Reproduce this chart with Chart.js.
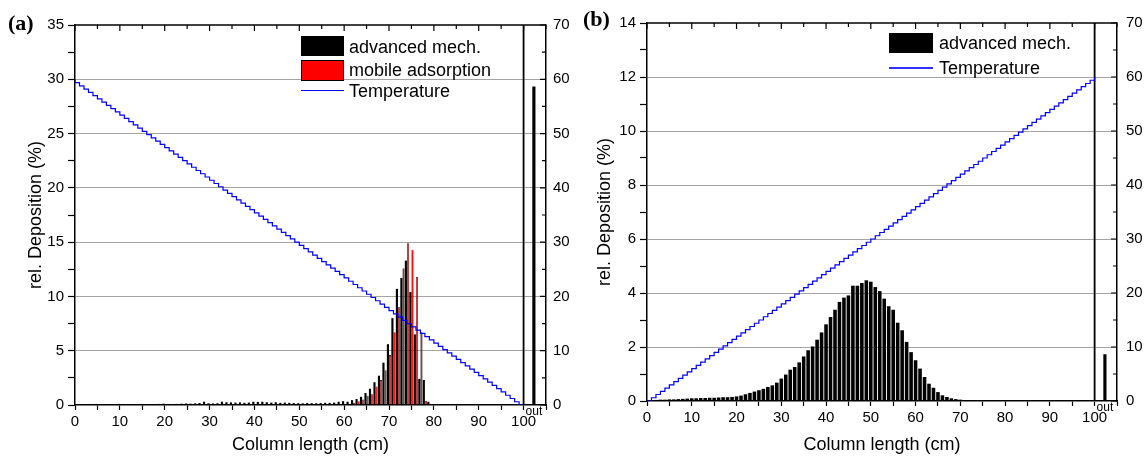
<!DOCTYPE html>
<html>
<head>
<meta charset="utf-8">
<script src="https://cdn.jsdelivr.net/npm/chart.js@4.4.1/dist/chart.umd.min.js"></script>
<style>
body { margin: 0; background: #fff; }
#wrap { position: relative; width: 1146px; height: 456px; overflow: hidden; font-family: 'Liberation Sans', Arial, sans-serif; }
canvas { position: absolute; top: 0; }
.tag { position: absolute; font: bold 22px 'Liberation Serif', 'Times New Roman', serif; }
.lg { position: absolute; font-size: 18px; line-height: 20px; white-space: nowrap; }
.sw { position: absolute; }
</style>
</head>
<body>
<div id="wrap">
  <canvas id="chartA" width="580" height="456" style="left:0"></canvas>
  <canvas id="chartB" width="566" height="456" style="left:580px"></canvas>
  <div class="tag" style="left:8px;top:10px">(a)</div>
  <div class="tag" style="left:583px;top:6px">(b)</div>

  <div class="sw" style="left:301px;top:36px;width:43px;height:20px;background:#000"></div>
  <div class="lg" style="left:349px;top:37px">advanced mech.</div>
  <div class="sw" style="left:301px;top:60px;width:41px;height:19px;background:#f00;border:1px solid #000"></div>
  <div class="lg" style="left:349px;top:60px">mobile adsorption</div>
  <div class="sw" style="left:301px;top:90px;width:43px;height:1px;background:#00f"></div>
  <div class="lg" style="left:349px;top:81px">Temperature</div>

  <div class="sw" style="left:889px;top:33px;width:44px;height:20px;background:#000"></div>
  <div class="lg" style="left:939px;top:33px">advanced mech.</div>
  <div class="sw" style="left:889px;top:67px;width:44px;height:1.5px;background:#3030ff"></div>
  <div class="lg" style="left:939px;top:58px">Temperature</div>
</div>
<script>
// column position of each deposition bin (cm)
const columnCm = [
  1, 2, 3, 4, 5, 6, 7, 8, 9, 10, 11, 12, 13, 14, 15, 16, 17, 18, 19, 20,
  21, 22, 23, 24, 25, 26, 27, 28, 29, 30, 31, 32, 33, 34, 35, 36, 37, 38, 39, 40,
  41, 42, 43, 44, 45, 46, 47, 48, 49, 50, 51, 52, 53, 54, 55, 56, 57, 58, 59, 60,
  61, 62, 63, 64, 65, 66, 67, 68, 69, 70, 71, 72, 73, 74, 75, 76, 77, 78, 79, 80,
  81, 82, 83, 84, 85, 86, 87, 88, 89, 90, 91, 92, 93, 94, 95, 96, 97, 98, 99, 100
];
const tempCm = [0, ...columnCm];

// (a) advanced mech. / mobile adsorption, rel. deposition %
const advA = [
  0.02, 0.03, 0.03, 0.05, 0.1, 0.05, 0.04, 0.05, 0.08, 0.1,
  0.06, 0.05, 0.06, 0.08, 0.1, 0.08, 0.07, 0.08, 0.1, 0.12,
  0.1, 0.09, 0.1, 0.12, 0.14, 0.12, 0.15, 0.18, 0.3, 0.15,
  0.14, 0.16, 0.3, 0.25, 0.24, 0.22, 0.24, 0.2, 0.22, 0.3,
  0.28, 0.3, 0.25, 0.22, 0.25, 0.2, 0.22, 0.2, 0.18, 0.16,
  0.15, 0.18, 0.17, 0.16, 0.18, 0.2, 0.2, 0.22, 0.3, 0.35,
  0.3, 0.45, 0.55, 0.75, 1.1, 1.5, 2.1, 2.7, 3.9, 5.6,
  8.0, 10.7, 11.7, 13.3, 10.4, 6.5, 2.4, 2.3, 0.3, 0,
  0, 0, 0, 0, 0, 0, 0, 0, 0, 0,
  0, 0, 0, 0, 0, 0, 0, 0, 0, 0
];
const mobA = [
  0, 0, 0, 0, 0, 0, 0, 0, 0, 0,
  0, 0, 0, 0, 0, 0, 0, 0, 0, 0,
  0, 0, 0, 0, 0, 0, 0, 0, 0, 0,
  0, 0, 0, 0, 0, 0, 0, 0, 0, 0,
  0, 0, 0, 0, 0, 0, 0, 0, 0, 0,
  0, 0, 0, 0, 0.02, 0.03, 0.03, 0.05, 0.05, 0.08,
  0.1, 0.2, 0.35, 0.5, 0.85, 1.0, 1.7, 2.3, 3.2, 4.6,
  6.7, 9.0, 12.6, 14.9, 14.3, 11.8, 6.7, 0.4, 0, 0,
  0, 0, 0, 0, 0, 0, 0, 0, 0, 0,
  0, 0, 0, 0, 0, 0, 0, 0, 0, 0
];
// (b) advanced mech.
const advB = [
  0.03, 0.04, 0.05, 0.05, 0.06, 0.06, 0.07, 0.08, 0.09, 0.1,
  0.1, 0.11, 0.11, 0.12, 0.12, 0.13, 0.14, 0.14, 0.15, 0.17,
  0.2, 0.25, 0.3, 0.35, 0.4, 0.45, 0.52, 0.58, 0.68, 0.83,
  0.98, 1.16, 1.26, 1.43, 1.65, 1.88, 2.02, 2.27, 2.54, 2.84,
  3.11, 3.38, 3.67, 3.83, 3.91, 4.27, 4.27, 4.37, 4.47, 4.42,
  4.22, 4.07, 3.79, 3.51, 3.38, 2.9, 2.62, 2.19, 1.81, 1.51,
  1.2, 0.89, 0.64, 0.49, 0.33, 0.21, 0.15, 0.1, 0.07, 0.05,
  0.03, 0.02, 0.01, 0, 0, 0, 0, 0, 0, 0,
  0, 0, 0, 0, 0, 0, 0, 0, 0, 0,
  0, 0, 0, 0, 0, 0, 0, 0, 0, 0
];

// share that leaves the column ("out")
const outCm = 102.3;
const outA = 29.3;
const outB = 1.72;
const columnEndCm = 100;

// temperature profile (right axis), one step per cm
const tempA = [
  60, 59.4, 58.8, 58.2, 57.6, 57, 56.4, 55.8, 55.2, 54.6,
  54, 53.4, 52.8, 52.2, 51.6, 51, 50.4, 49.8, 49.2, 48.6,
  48, 47.4, 46.8, 46.2, 45.6, 45, 44.4, 43.8, 43.2, 42.6,
  42, 41.4, 40.8, 40.2, 39.6, 39, 38.4, 37.8, 37.2, 36.6,
  36, 35.4, 34.8, 34.2, 33.6, 33, 32.4, 31.8, 31.2, 30.6,
  30, 29.4, 28.8, 28.2, 27.6, 27, 26.4, 25.8, 25.2, 24.6,
  24, 23.4, 22.8, 22.2, 21.6, 21, 20.4, 19.8, 19.2, 18.6,
  18, 17.4, 16.8, 16.2, 15.6, 15, 14.4, 13.8, 13.2, 12.6,
  12, 11.4, 10.8, 10.2, 9.6, 9, 8.4, 7.8, 7.2, 6.6,
  6, 5.4, 4.8, 4.2, 3.6, 3, 2.4, 1.8, 1.2, 0.6,
  0
];
const tempB = [
  0, 0.6, 1.2, 1.8, 2.4, 3, 3.6, 4.2, 4.8, 5.4,
  6, 6.6, 7.2, 7.8, 8.4, 9, 9.6, 10.2, 10.8, 11.4,
  12, 12.6, 13.2, 13.8, 14.4, 15, 15.6, 16.2, 16.8, 17.4,
  18, 18.6, 19.2, 19.8, 20.4, 21, 21.6, 22.2, 22.8, 23.4,
  24, 24.6, 25.2, 25.8, 26.4, 27, 27.6, 28.2, 28.8, 29.4,
  30, 30.6, 31.2, 31.8, 32.4, 33, 33.6, 34.2, 34.8, 35.4,
  36, 36.6, 37.2, 37.8, 38.4, 39, 39.6, 40.2, 40.8, 41.4,
  42, 42.6, 43.2, 43.8, 44.4, 45, 45.6, 46.2, 46.8, 47.4,
  48, 48.6, 49.2, 49.8, 50.4, 51, 51.6, 52.2, 52.8, 53.4,
  54, 54.6, 55.2, 55.8, 56.4, 57, 57.6, 58.2, 58.8, 59.4,
  60
];

Chart.defaults.font.family = "'Liberation Sans', Arial, sans-serif";
Chart.defaults.color = '#000';

// bars: empty bins are left out; lines keep every point
const bars = (xs, ys) => xs.map((x, i) => ({ x: x, y: ys[i] || null }));
const pts = (xs, ys) => xs.map((x, i) => ({ x: x, y: ys[i] }));

// box on top/right with inward ticks, plus the "out" tag
const frame = {
  id: 'frame',
  afterDraw(chart) {
    const { ctx, chartArea: a, scales: { x, y2 } } = chart;
    ctx.save();
    ctx.strokeStyle = '#000';
    ctx.lineWidth = 1.5;
    ctx.beginPath();
    ctx.moveTo(a.left, a.top);
    ctx.lineTo(a.right, a.top);
    ctx.stroke();
    ctx.lineWidth = 1.2;
    ctx.beginPath();
    x.ticks.forEach(t => {
      const px = x.getPixelForValue(t.value);
      const len = t.value % 10 === 0 ? 6 : 4;
      ctx.moveTo(px, a.top);
      ctx.lineTo(px, a.top + len);
    });
    y2.ticks.forEach(t => {
      const py = y2.getPixelForValue(t.value);
      const len = t.value % 10 === 0 ? 6 : 4;
      ctx.moveTo(a.right, py);
      ctx.lineTo(a.right - len, py);
    });
    ctx.stroke();
    ctx.fillStyle = '#000';
    ctx.font = "12px 'Liberation Sans', Arial, sans-serif";
    ctx.textAlign = 'center';
    ctx.textBaseline = 'top';
    ctx.fillText('out', x.getPixelForValue(outCm), a.bottom + 1);
    ctx.restore();
  }
};

function panel(id, p) {
  return new Chart(document.getElementById(id), {
    type: 'bar',
    data: { datasets: p.datasets },
    options: {
      responsive: false,
      animation: false,
      devicePixelRatio: 1,
      layout: { padding: { top: p.top, left: 0, right: 0, bottom: 0 } },
      plugins: { legend: { display: false }, tooltip: { enabled: false } },
      scales: {
        x: {
          type: 'linear', min: 0, max: 105, offset: false,
          afterFit: s => { s.height = p.xHeight; },
          ticks: {
            stepSize: 5, autoSkip: false, maxRotation: 0, padding: 3, font: { size: 15 },
            callback: v => (v % 10 === 0 && v <= 100) ? v : ''
          },
          grid: { drawOnChartArea: false, offset: false, tickLength: 5, tickColor: '#000', tickWidth: 1.2 },
          border: { color: '#000', width: 1.5 },
          title: { display: true, text: 'Column length (cm)', font: { size: 18 }, padding: { top: 2, bottom: 0 } }
        },
        y: {
          position: 'left', min: 0, max: p.yMax,
          afterFit: s => { s.width = p.yWidth; },
          ticks: {
            stepSize: p.yStep / 2, autoSkip: false, padding: 4, font: { size: 15 },
            callback: v => v % p.yStep === 0 ? v : ''
          },
          grid: {
            color: c => (c.tick && c.tick.value % p.yStep === 0 && c.tick.value > 0 && c.tick.value < p.yMax) ? '#a4a4a4' : 'rgba(0,0,0,0)',
            lineWidth: 1, tickColor: '#000', tickLength: 7, tickWidth: 1.2
          },
          border: { color: '#000', width: 1.5 },
          title: { display: true, text: 'rel. Deposition (%)', font: { size: 18 }, padding: { top: p.titlePad, bottom: 0 } }
        },
        y2: {
          position: 'right', min: 0, max: 70,
          afterFit: s => { s.width = p.y2Width; },
          ticks: { stepSize: 5, autoSkip: false, padding: p.y2Pad, font: { size: 15 }, callback: v => v % 10 === 0 ? v : '' },
          grid: { drawOnChartArea: false, drawTicks: false },
          border: { color: '#000', width: 1.5 }
        }
      }
    },
    plugins: [frame]
  });
}

panel('chartA', {
  top: 25, xHeight: 51, yWidth: 75, y2Width: 34, y2Pad: 7, titlePad: 25, yMax: 35, yStep: 5,
  datasets: [
    { type: 'line', label: 'Temperature', data: pts(tempCm, tempA), yAxisID: 'y2', borderColor: '#0000ff', borderWidth: 1.2, pointRadius: 0, stepped: 'after', order: 0 },
    { type: 'line', label: 'column end', data: [{ x: columnEndCm, y: 0 }, { x: columnEndCm, y: 35 }], borderColor: '#000', borderWidth: 1.8, pointRadius: 0, order: 1 },
    { label: 'advanced mech.', data: bars(columnCm, advA), backgroundColor: '#000', categoryPercentage: 0.95, barPercentage: 1, order: 2 },
    { label: 'mobile adsorption', data: bars(columnCm, mobA), backgroundColor: '#ff0000', borderColor: '#200000', borderWidth: 0.6, categoryPercentage: 0.95, barPercentage: 1, order: 3 },
    { label: 'out', data: [{ x: outCm, y: outA }], backgroundColor: '#000', grouped: false, barThickness: 2.5, order: 4 }
  ]
});

panel('chartB', {
  top: 23, xHeight: 55, yWidth: 67, y2Width: 29, y2Pad: 9, titlePad: 14, yMax: 14, yStep: 2,
  datasets: [
    { type: 'line', label: 'Temperature', data: pts(tempCm, tempB), yAxisID: 'y2', borderColor: '#0000ff', borderWidth: 1.2, pointRadius: 0, stepped: 'before', order: 0 },
    { type: 'line', label: 'column end', data: [{ x: columnEndCm, y: 0 }, { x: columnEndCm, y: 14 }], borderColor: '#000', borderWidth: 1.8, pointRadius: 0, order: 1 },
    { label: 'advanced mech.', data: bars(columnCm, advB), backgroundColor: '#000', categoryPercentage: 1, barPercentage: 0.8, order: 2 },
    { label: 'out', data: [{ x: outCm, y: outB }], backgroundColor: '#000', grouped: false, barThickness: 2.5, order: 4 }
  ]
});
</script>
</body>
</html>
